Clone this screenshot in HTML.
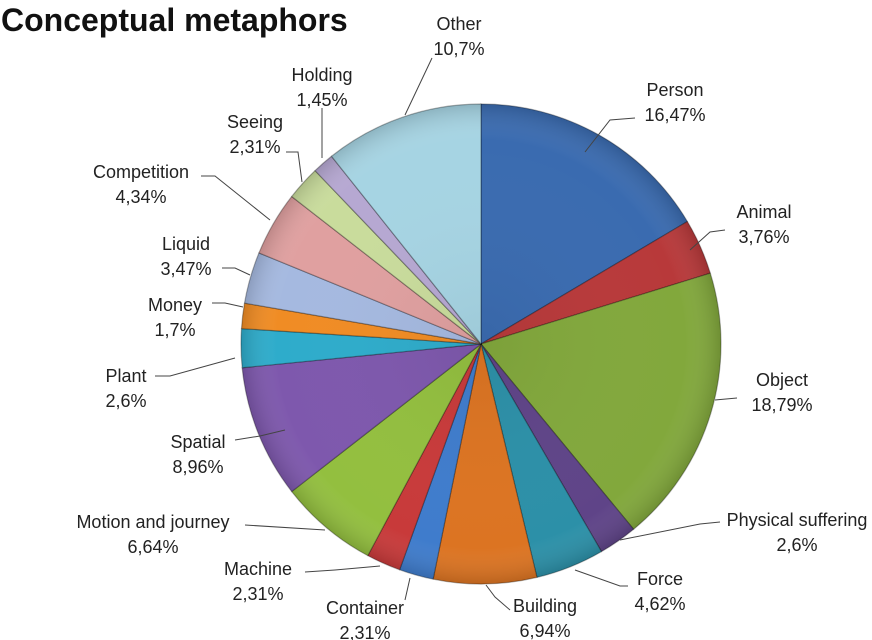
<!DOCTYPE html>
<html><head><meta charset="utf-8"><style>
html,body{margin:0;padding:0;background:#fff;}
svg{display:block;}
text{font-family:"Liberation Sans",sans-serif;font-size:18px;fill:#222;}
</style></head><body>
<svg id="s" width="872" height="640" viewBox="0 0 872 640" xmlns="http://www.w3.org/2000/svg">
<defs>
<radialGradient id="g" cx="481" cy="344" r="240" gradientUnits="userSpaceOnUse">
<stop offset="0" stop-color="#000" stop-opacity="0.05"/>
<stop offset="0.85" stop-color="#fff" stop-opacity="0"/>
<stop offset="1" stop-color="#000" stop-opacity="0.15"/>
</radialGradient>
</defs>
<text x="1" y="31" style="font-size:32px;font-weight:bold;fill:#111">Conceptual metaphors</text>
<g id="pie"></g>
<g stroke="#444" stroke-width="1" fill="none">
<polyline points="432,58 405,115"/>
<polyline points="635,118 610,120 585,152"/>
<polyline points="725,230 710,232 690,250"/>
<polyline points="737,398 715,400"/>
<polyline points="720,522 700,524 620,540"/>
<polyline points="628,586 620,586 575,570"/>
<polyline points="510,610 495,597 486,585"/>
<polyline points="405,600 410,578"/>
<polyline points="305,572 335,570 380,566"/>
<polyline points="245,525 325,530"/>
<polyline points="235,440 260,436 285,430"/>
<polyline points="155,376 170,376 235,358"/>
<polyline points="212,303 225,303 243,307"/>
<polyline points="222,268 235,268 250,275"/>
<polyline points="201,176 215,176 270,220"/>
<polyline points="286,152 298,152 302,182"/>
<polyline points="322,108 322,158"/>
</g>
<g text-anchor="middle">
<text x="459" y="30">Other</text><text x="459" y="55">10,7%</text>
<text x="675" y="96">Person</text><text x="675" y="121">16,47%</text>
<text x="764" y="218">Animal</text><text x="764" y="243">3,76%</text>
<text x="782" y="386">Object</text><text x="782" y="411">18,79%</text>
<text x="797" y="526">Physical suffering</text><text x="797" y="551">2,6%</text>
<text x="660" y="585">Force</text><text x="660" y="610">4,62%</text>
<text x="545" y="612">Building</text><text x="545" y="637">6,94%</text>
<text x="365" y="614">Container</text><text x="365" y="639">2,31%</text>
<text x="258" y="575">Machine</text><text x="258" y="600">2,31%</text>
<text x="153" y="528">Motion and journey</text><text x="153" y="553">6,64%</text>
<text x="198" y="448">Spatial</text><text x="198" y="473">8,96%</text>
<text x="126" y="382">Plant</text><text x="126" y="407">2,6%</text>
<text x="175" y="311">Money</text><text x="175" y="336">1,7%</text>
<text x="186" y="250">Liquid</text><text x="186" y="275">3,47%</text>
<text x="141" y="178">Competition</text><text x="141" y="203">4,34%</text>
<text x="255" y="128">Seeing</text><text x="255" y="153">2,31%</text>
<text x="322" y="81">Holding</text><text x="322" y="106">1,45%</text>
</g>
</svg>
<script>
var d=[[16.47,"#3a6bb0"],[3.76,"#b8393a"],[18.79,"#82a83c"],[2.6,"#5f4488"],[4.62,"#2c90a8"],[6.94,"#dc7422"],[2.31,"#3f7ccc"],[2.31,"#c83a3a"],[6.64,"#93bf3f"],[8.96,"#7e58ad"],[2.6,"#2eaccb"],[1.7,"#f08c24"],[3.47,"#a5b9e0"],[4.34,"#e0a0a0"],[2.31,"#c9dc9c"],[1.45,"#b6a8d2"],[10.7,"#a6d4e3"]];
var cx=481,cy=344,R=240,a=0,tot=99.97,g=document.getElementById("pie"),h="";
function p(t,r){var x=cx+r*Math.sin(t),y=cy-r*Math.cos(t);return x.toFixed(2)+","+y.toFixed(2);}
d.forEach(function(e){var a2=a+e[0]/tot*2*Math.PI;var lg=(a2-a)>Math.PI?1:0;
var path="M"+cx+","+cy+" L"+p(a,R)+" A"+R+","+R+" 0 "+lg+" 1 "+p(a2,R)+" Z";
h+='<path d="'+path+'" fill="'+e[1]+'" stroke="rgba(0,0,0,0.3)" stroke-width="1.2" stroke-linejoin="round"/>';
h+='<path d="'+path+'" fill="url(#g)"/>';a=a2;});
g.innerHTML=h;
</script>
</body></html>
